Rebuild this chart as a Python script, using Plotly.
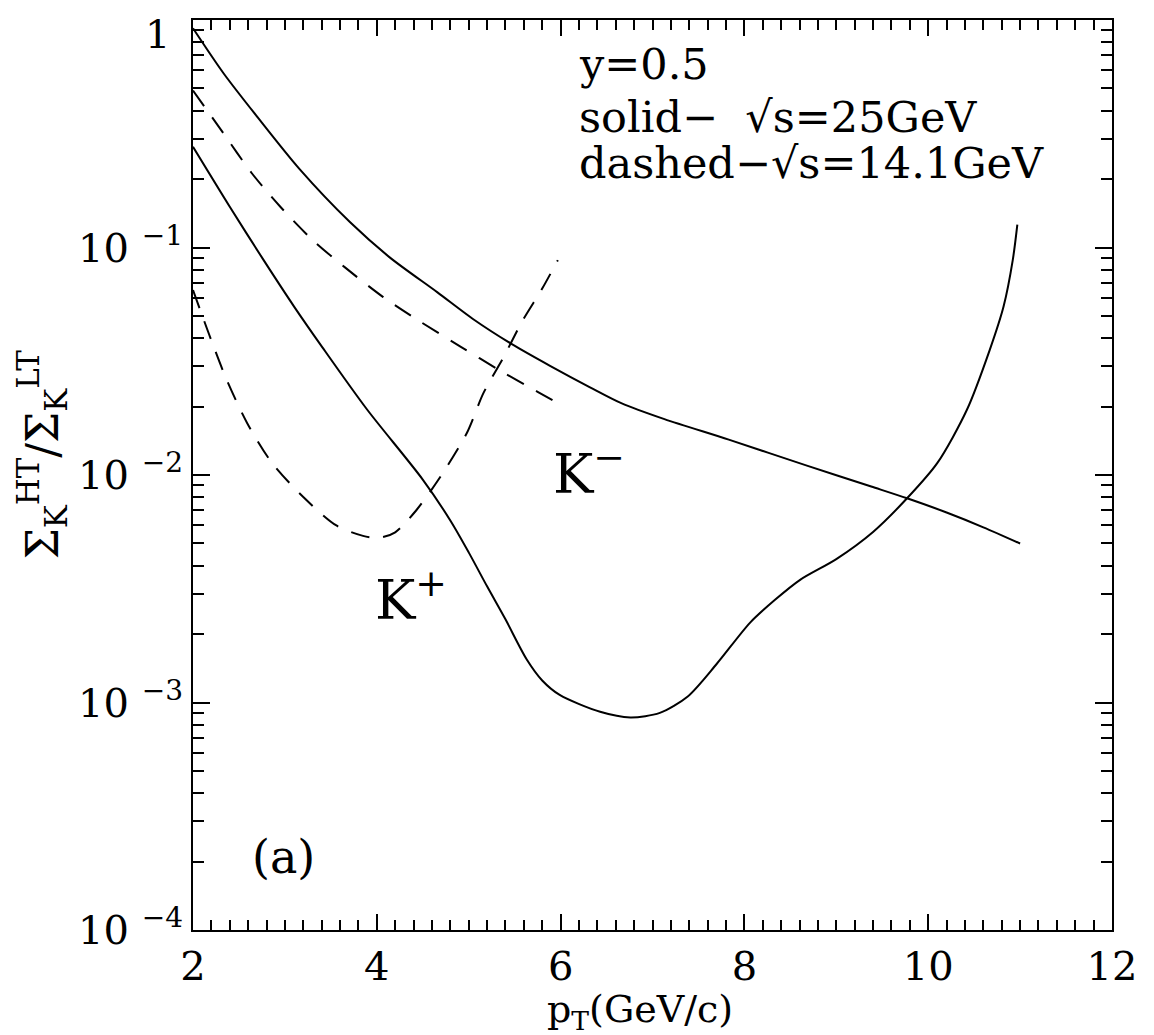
import plotly.graph_objects as go

# K- , sqrt(s)=25 GeV (solid)
km25_pt = [2.0, 2.33, 2.7, 3.16, 3.71, 4.14, 4.66, 5.05, 5.47, 5.885, 6.32, 6.66, 7.13, 7.83, 8.68, 9.38, 9.77, 10.2, 10.6, 11.0]
km25_r = [0.92, 0.585, 0.375, 0.221, 0.129, 0.0905, 0.0635, 0.0484, 0.0376, 0.0302, 0.0243, 0.0207, 0.0176, 0.0143, 0.011, 0.0089, 0.0079, 0.00684, 0.00589, 0.0050]

# K+ , sqrt(s)=25 GeV (solid)
kp25_pt = [2.0, 2.4, 2.76, 3.1, 3.41, 3.89, 4.5, 4.8, 5.0, 5.2, 5.4, 5.63, 5.8, 5.99, 6.43, 6.76, 7.08, 7.38, 7.7, 8.06, 8.33, 8.61, 9.0, 9.4, 9.77, 10.1, 10.42, 10.67, 10.82, 10.92, 10.97]
kp25_r = [0.277, 0.151, 0.0891, 0.055, 0.0363, 0.0195, 0.00955, 0.00631, 0.00457, 0.00324, 0.00232, 0.00155, 0.00125, 0.00108, 0.00091, 0.00086, 0.0009, 0.00106, 0.00148, 0.00224, 0.00282, 0.00347, 0.00427, 0.00562, 0.0079, 0.0113, 0.0193, 0.0355, 0.055, 0.088, 0.126]

# K- , sqrt(s)=14.1 GeV (dashed)
km14_pt = [2.0, 2.33, 2.64, 2.95, 3.3, 3.65, 4.07, 4.47, 4.91, 5.34, 5.75, 6.0]
km14_r = [0.49, 0.318, 0.212, 0.151, 0.108, 0.082, 0.0605, 0.0473, 0.0367, 0.0288, 0.0232, 0.0204]

# K+ , sqrt(s)=14.1 GeV (dashed)
kp14_pt = [2.0, 2.19, 2.37, 2.59, 2.86, 3.2, 3.56, 3.85, 4.03, 4.2, 4.43, 4.69, 4.98, 5.16, 5.38, 5.59, 5.8, 5.97]
kp14_r = [0.065, 0.040, 0.026, 0.0169, 0.0113, 0.0080, 0.0060, 0.0054, 0.0053, 0.0056, 0.0070, 0.0098, 0.0153, 0.0229, 0.033, 0.048, 0.066, 0.088]

x_ticks = [2, 4, 6, 8, 10, 12]
y_ticks = [1e-4, 1e-3, 1e-2, 1e-1, 1]
# the "1" at the top is drawn as an annotation so it is not clipped by the page edge
y_ticktext = ["10\u00a0<sup>−4</sup>", "10\u00a0<sup>−3</sup>", "10\u00a0<sup>−2</sup>", "10\u00a0<sup>−1</sup>", ""]
y_minor = [k * 10.0 ** e for e in range(-4, 0) for k in range(2, 10)]

serif = "DejaVu Serif"

fig = go.Figure()
line_solid = dict(color="black", width=2, shape="spline", smoothing=0.8)
line_dash = dict(color="black", width=2, shape="spline", smoothing=0.8, dash="19px,14px")

fig.add_trace(go.Scatter(x=km25_pt, y=km25_r, mode="lines", line=line_solid, showlegend=False))
fig.add_trace(go.Scatter(x=kp25_pt, y=kp25_r, mode="lines", line=line_solid, showlegend=False))
fig.add_trace(go.Scatter(x=km14_pt, y=km14_r, mode="lines", line=line_dash, showlegend=False))
fig.add_trace(go.Scatter(x=kp14_pt, y=kp14_r, mode="lines", line=line_dash, showlegend=False))

axis_common = dict(
    showgrid=False, zeroline=False, showline=True, linecolor="black", linewidth=2,
    mirror="allticks", ticks="inside", tickcolor="black", tickwidth=2, automargin=False,
    ticklabeloverflow="allow",
    tickfont=dict(family=serif, size=40, color="black"),
)

fig.update_xaxes(
    range=[2, 12], tickvals=x_ticks, ticklen=16,
    minor=dict(dtick=0.2, ticks="inside", ticklen=10, tickcolor="black", tickwidth=1.5),
    **axis_common,
)
fig.update_yaxes(
    type="log", range=[-4, 0], tickvals=y_ticks, ticktext=y_ticktext, ticklen=17,
    minor=dict(tickvals=y_minor, ticks="inside", ticklen=11, tickcolor="black", tickwidth=1.5, showgrid=False),
    **axis_common,
)

txt = dict(family=serif, color="black")
fig.add_annotation(x=-0.039, y=1, xref="paper", yref="paper", xanchor="center", yanchor="top", yshift=11,
                   showarrow=False, text="1", font=dict(size=40, **txt))

# axis titles
fig.add_annotation(x=0.486, y=-0.09, xref="paper", yref="paper", xanchor="center", yanchor="middle",
                   showarrow=False, text="p<sub>T</sub>(GeV/c)", font=dict(size=38, **txt))
fig.add_annotation(x=-0.164, y=0.522, xref="paper", yref="paper", xanchor="center", yanchor="middle",
                   showarrow=False, textangle=-90,
                   text="Σ<sub>K</sub><sup>HT</sup>/Σ<sub>K</sub><sup>LT</sup>", font=dict(size=44, **txt))

# legend-like text block
info_lines = ["y=0.5", "solid−\u00a0\u00a0√s=25GeV", "dashed−√s=14.1GeV"]
info_y = [0.952, 0.893, 0.843]
for line, yy in zip(info_lines, info_y):
    fig.add_annotation(x=0.418, y=yy, xref="paper", yref="paper", xanchor="left", yanchor="middle",
                       showarrow=False, text=line, font=dict(size=43, **txt))

fig.add_annotation(x=6.31, y=-1.978, text="K<sup>−</sup>", showarrow=False, font=dict(size=54, **txt))
fig.add_annotation(x=4.37, y=-2.534, text="K<sup>+</sup>", showarrow=False, font=dict(size=54, **txt))
fig.add_annotation(x=2.98, y=-3.68, text="(a)", showarrow=False, font=dict(size=46, **txt))

# page body adds an 8px margin, so the figure is a little smaller than the window
fig.update_layout(
    width=1146, height=1027,
    margin=dict(l=185, r=42, t=12, b=105),
    plot_bgcolor="white", paper_bgcolor="white",
)

fig.write_html("out.html")
